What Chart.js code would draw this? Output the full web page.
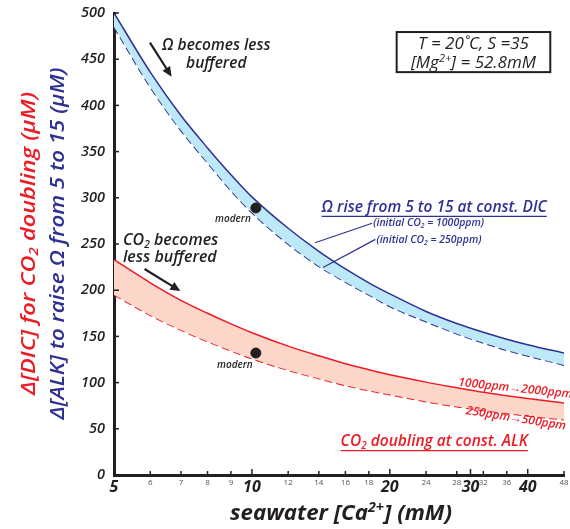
<!DOCTYPE html>
<html><head><meta charset="utf-8">
<script src="https://cdn.jsdelivr.net/npm/chart.js@4/dist/chart.umd.min.js"></script>
<style>html,body{margin:0;padding:0;background:#fff;}#wrap{width:570px;height:529px;position:relative;}</style>
</head><body><div id="wrap"><canvas id="c" width="570" height="529" style="width:570px;height:529px"></canvas></div>
<script>
// ---- data ----
const caValues   = [5,6,7,8,9,10,12,14,16,18,20,24,28,32,36,40,48];
const omegaHigh  = [500,436,389,354,325,301,267,242,223,208,196,177,164,154.5,147,141,132]; // initial CO2 = 1000ppm
const omegaLow   = [485,420,373,338,308,284,250,226,209,195,182.5,166,153,143,135,129,119]; // initial CO2 = 250ppm
const co2High    = [233,208,189,175,163.5,154,139.5,129,120.5,114,108.5,100.5,94.5,89.5,85.8,82.7,78]; // 1000 -> 2000 ppm
const co2Low     = [195,173,157,144.5,134.5,126,113.5,104.5,97,91.5,87,79.5,74,70,66.8,64,60];          // 250 -> 500 ppm
const modernCa   = [10.2];
const modernOmega= [289];
const modernCo2  = [132];
const xTickValues= [5,6,7,8,9,10,12,14,16,18,20,24,28,30,32,36,40,48];
const xMajorTicks= [5,10,20,30,40];
const xMinorLabels=[6,7,8,9,12,14,16,18,24,28,32,36,48];

// ---- styles ----
const FONT = "'Open Sans', 'Noto Sans', sans-serif";
const INK = '#231f20';
const NAVY = '#2e3192';
const RED = '#ed1c24';
const CYAN = '#bde8f7';
const PINK = '#fdd6ca';

const pts = (xs, ys) => xs.map((x,i)=>({x, y: ys[i]}));

function drawRich(ctx, segs, x, y, o){
  ctx.save();
  ctx.translate(x,y);
  if (o.rotate) ctx.rotate(o.rotate*Math.PI/180);
  const f = s => `${o.style||'normal'} ${o.weight||400} ${s}px ${FONT}`;
  const small = o.size*0.64;
  let w = 0;
  for (const [t,k] of segs){ ctx.font = f(k?small:o.size); w += ctx.measureText(t).width; }
  if (o.fit) { ctx.scale(o.fit / w, 1); }
  let cx = o.align==='left' ? 0 : (o.align==='right' ? -w : -w/2);
  const x0 = cx;
  ctx.textBaseline = 'alphabetic';
  ctx.fillStyle = o.color;
  for (const [t,k] of segs){
    ctx.font = f(k?small:o.size);
    const dy = k==='sup' ? -o.size*0.36 : (k==='sub' ? o.size*0.18 : 0);
    ctx.fillText(t, cx, dy);
    cx += ctx.measureText(t).width;
  }
  if (o.underline){
    ctx.strokeStyle = o.color; ctx.lineWidth = 1.3;
    ctx.beginPath(); ctx.moveTo(x0, o.size*0.3); ctx.lineTo(cx, o.size*0.3); ctx.stroke();
  }
  ctx.restore();
}

function arrow(ctx, x1,y1,x2,y2,color){
  const a = Math.atan2(y2-y1,x2-x1), L=10, W=4.5;
  ctx.save(); ctx.strokeStyle=color; ctx.fillStyle=color; ctx.lineWidth=2.2;
  ctx.beginPath(); ctx.moveTo(x1,y1); ctx.lineTo(x2-Math.cos(a)*L*0.8, y2-Math.sin(a)*L*0.8); ctx.stroke();
  ctx.beginPath(); ctx.moveTo(x2,y2);
  ctx.lineTo(x2-Math.cos(a)*L - Math.sin(a)*W, y2-Math.sin(a)*L + Math.cos(a)*W);
  ctx.lineTo(x2-Math.cos(a)*L + Math.sin(a)*W, y2-Math.sin(a)*L - Math.cos(a)*W);
  ctx.closePath(); ctx.fill(); ctx.restore();
}

const annotPlugin = {
  id: 'annot',
  afterDraw(chart){
    const {ctx, chartArea: A} = chart;
    const xs = chart.scales.x, ys = chart.scales.y;
    const X = v => xs.getPixelForValue(v), Y = v => ys.getPixelForValue(v);
    ctx.save();
    // tick marks (inside)
    ctx.strokeStyle = INK; ctx.lineWidth = 1.5;
    ys.ticks.forEach(t => { const p = Y(t.value); ctx.beginPath(); ctx.moveTo(A.left, p); ctx.lineTo(A.left+5, p); ctx.stroke(); });
    xs.ticks.forEach(t => { const p = X(t.value); const L = xMajorTicks.includes(t.value) ? 6 : 4;
      ctx.beginPath(); ctx.moveTo(p, A.bottom); ctx.lineTo(p, A.bottom-L); ctx.stroke(); });

    // axis titles
    drawRich(ctx, [['seawater [Ca',''],['2+','sup'],['] (mM)','']], 341, 520,
      {size:21, style:'italic', weight:700, color:INK, fit:222});
    ctx.save(); ctx.translate(35, 243.5); ctx.rotate(-Math.PI/2);
    drawRich(ctx, [['Δ[DIC] for CO',''],['2','sub'],[' doubling (µM)','']], 0, 0, {size:19, style:'italic', weight:600, color:RED, fit:303});
    drawRich(ctx, [['Δ[ALK] to raise Ω from 5 to 15 (µM)','']], 0, 28.5, {size:19, style:'italic', weight:600, color:NAVY, fit:352});
    ctx.restore();

    // Omega annotation
    drawRich(ctx, [['Ω becomes less','']], X(8.36), Y(460), {size:15.5, style:'italic', weight:600, color:INK});
    drawRich(ctx, [['buffered','']], X(8.36), Y(440), {size:15.5, style:'italic', weight:600, color:INK});
    arrow(ctx, X(5.99), Y(468), X(6.68), Y(431), INK);

    // CO2 annotation
    drawRich(ctx, [['CO',''],['2','sub'],[' becomes','']], X(5.23), Y(249), {size:16, style:'italic', weight:600, color:INK, align:'left'});
    drawRich(ctx, [['less buffered','']], X(5.23), Y(230), {size:16, style:'italic', weight:600, color:INK, align:'left'});
    arrow(ctx, X(5.83), Y(223), X(6.98), Y(199), INK);

    // modern labels
    drawRich(ctx, [['modern','']], X(9.09), Y(274), {size:10, style:'italic', weight:600, color:INK});
    drawRich(ctx, [['modern','']], X(9.18), Y(115.5), {size:10, style:'italic', weight:600, color:INK});

    // box
    const bx1 = X(20.7), by1 = Y(479.4), bx2 = X(44.8), by2 = Y(436);
    ctx.strokeStyle = INK; ctx.lineWidth = 2;
    ctx.strokeRect(bx1, by1, bx2-bx1, by2-by1);
    drawRich(ctx, [['T = 20˚C, S =35','']], (bx1+bx2)/2, Y(460.5), {size:17, style:'italic', weight:400, color:INK});
    drawRich(ctx, [['[Mg',''],['2+','sup'],['] = 52.8mM','']], (bx1+bx2)/2, Y(440.5), {size:17, style:'italic', weight:400, color:INK});

    // Omega band labels
    drawRich(ctx, [['Ω rise from 5 to 15 at const. DIC','']], X(25.0), Y(285), {size:15.5, style:'italic', weight:600, color:NAVY, underline:true});
    drawRich(ctx, [['(initial CO',''],['2','sub'],[' = 1000ppm)','']], X(18.4), Y(269.5), {size:10.5, style:'italic', weight:600, color:NAVY, align:'left'});
    drawRich(ctx, [['(initial CO',''],['2','sub'],[' = 250ppm)','']], X(18.7), Y(251.5), {size:10.5, style:'italic', weight:600, color:NAVY, align:'left'});
    ctx.strokeStyle = NAVY; ctx.lineWidth = 1.2;
    ctx.beginPath(); ctx.moveTo(X(18.3), Y(272.5)); ctx.lineTo(X(13.73), Y(251.3)); ctx.stroke();
    ctx.beginPath(); ctx.moveTo(X(18.6), Y(255)); ctx.lineTo(X(14.3), Y(224.5)); ctx.stroke();

    // CO2 band labels
    drawRich(ctx, [['1000ppm→2000ppm','']], X(37.5), Y(90), {size:12, style:'italic', weight:600, color:RED, rotate:6});
    drawRich(ctx, [['250ppm→500ppm','']], X(37.6), Y(57.5), {size:12, style:'italic', weight:600, color:RED, rotate:9});
    drawRich(ctx, [['CO',''],['2','sub'],[' doubling at const. ALK','']], X(25.0), Y(31.5), {size:15.5, style:'italic', weight:600, color:RED, underline:true});
    ctx.restore();
  }
};

new Chart(document.getElementById('c'), {
  type: 'line',
  data: {
    datasets: [
      {label:'Omega 1000ppm', data: pts(caValues, omegaHigh), borderColor: NAVY, borderWidth: 1.5,
        backgroundColor: CYAN, fill: '+1', pointRadius: 0, tension: 0.4, cubicInterpolationMode:'monotone'},
      {label:'Omega 250ppm', data: pts(caValues, omegaLow), borderColor: NAVY, borderWidth: 1.8, borderDash:[8,4],
        fill: false, pointRadius: 0, tension: 0.4, cubicInterpolationMode:'monotone'},
      {label:'CO2 1000ppm', data: pts(caValues, co2High), borderColor: RED, borderWidth: 1.5,
        backgroundColor: PINK, fill: '+1', pointRadius: 0, tension: 0.4, cubicInterpolationMode:'monotone'},
      {label:'CO2 250ppm', data: pts(caValues, co2Low), borderColor: RED, borderWidth: 1.8, borderDash:[8,4],
        fill: false, pointRadius: 0, tension: 0.4, cubicInterpolationMode:'monotone'},
      {label:'modern omega', data: pts(modernCa, modernOmega), showLine:false, pointRadius:5, order:-1,
        pointBackgroundColor: INK, pointBorderColor: INK},
      {label:'modern co2', data: pts(modernCa, modernCo2), showLine:false, pointRadius:5, order:-1,
        pointBackgroundColor: INK, pointBorderColor: INK}
    ]
  },
  options: {
    responsive: false,
    animation: false,
    devicePixelRatio: 1,
    layout: { padding: { top: 13, right: 2, left: 0, bottom: 0 } },
    plugins: { legend: {display:false}, tooltip: {enabled:false}, title:{display:false} },
    scales: {
      x: {
        type: 'logarithmic', min: 5, max: 48,
        grid: { display: false, drawTicks: false },
        border: { display: true, color: INK, width: 3 },
        afterBuildTicks: s => { s.ticks = xTickValues.map(v => ({value: v, major: xMajorTicks.includes(v)})); },
        afterFit: s => { s.height = 54; s.paddingLeft = 0; s.paddingRight = 0; },
        ticks: {
          autoSkip: false, maxRotation: 0, padding: 3,
          callback: v => (xMajorTicks.includes(v) || xMinorLabels.includes(v)) ? String(v) : '',
          font: c => (c.tick && xMajorTicks.includes(c.tick.value))
            ? {family: FONT, size: 16, style: 'italic', weight: 700}
            : {family: FONT, size: 8, weight: 400},
          color: c => (c.tick && xMajorTicks.includes(c.tick.value)) ? INK : '#555'
        }
      },
      y: {
        min: 0, max: 500,
        grid: { display: false, drawTicks: false },
        border: { display: true, color: INK, width: 3 },
        afterFit: s => { s.width = 114; s.paddingTop = 0; s.paddingBottom = 0; },
        ticks: { stepSize: 50, padding: 9, color: INK,
          font: {family: FONT, size: 14.5, style: 'italic', weight: 600} }
      }
    }
  },
  plugins: [annotPlugin]
});
</script>
</body></html>
